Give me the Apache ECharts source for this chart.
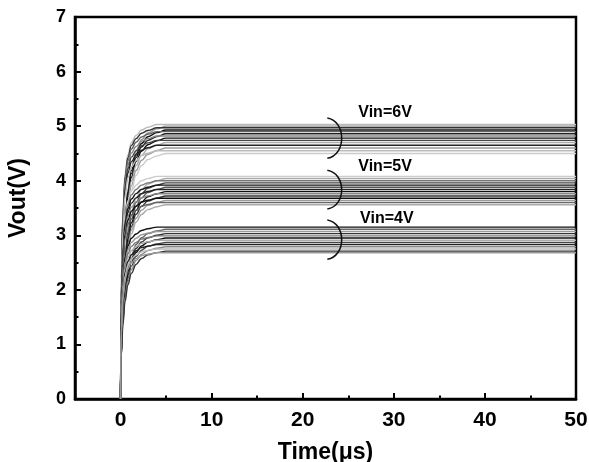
<!DOCTYPE html>
<html>
<head>
<meta charset="utf-8">
<script src="https://cdn.jsdelivr.net/npm/echarts@6/dist/echarts.min.js"></script>
<style>
  html, body { margin: 0; padding: 0; background: #fff; }
  #chart { width: 589px; height: 462px; }
</style>
</head>
<body>
<div id="chart"></div>
<script>
// time samples (us) and rise profiles (fraction of final level)
const times = [0, 0.1, 0.25, 0.5, 0.8, 1.2, 1.7, 2.3, 3, 4, 5, 50]
const fastRise = [0, 0.45, 0.68, 0.82, 0.89, 0.935, 0.96, 0.98, 0.99, 1, 1, 1]
const slowRise = [0, 0.3, 0.5, 0.66, 0.77, 0.85, 0.91, 0.95, 0.975, 0.99, 1, 1]

// final output levels (V) of each curve, per input voltage
const levels6V = [5.03, 5.0, 4.97, 4.93, 4.9, 4.86, 4.82, 4.78, 4.74, 4.7, 4.65, 4.6, 4.55, 4.5]
const levels5V = [4.08, 4.04, 4.0, 3.96, 3.92, 3.88, 3.84, 3.8, 3.76, 3.72, 3.68, 3.64, 3.6, 3.56]
const levels4V = [3.15, 3.11, 3.07, 3.03, 2.99, 2.95, 2.91, 2.87, 2.83, 2.79, 2.75, 2.71, 2.68]

// grey shade of each curve
const shades6V = ['#bbb', '#999', '#333', '#111', '#666', '#222', '#888', '#111', '#444', '#aaa', '#222', '#999', '#bbb', '#ccc']
const shades5V = ['#ccc', '#aaa', '#777', '#444', '#111', '#555', '#222', '#111', '#888', '#333', '#111', '#999', '#666', '#aaa']
const shades4V = ['#111', '#666', '#999', '#333', '#777', '#111', '#aaa', '#444', '#222', '#888', '#bbb', '#333', '#999']

const groupLabels = ['Vin=6V', 'Vin=5V', 'Vin=4V']

// tick positions
const xMajor = [0, 10, 20, 30, 40, 50]
const xMinor = [5, 15, 25, 35, 45]

const font = 'Liberation Sans'

function buildSeries(levels, shades, name) {
  return levels.map((lv, i) => {
    const prof = i % 2 === 0 ? fastRise : slowRise
    return {
      name: name + '_' + i,
      type: 'line',
      xAxisIndex: 0,
      showSymbol: false,
      smooth: 0.4,
      smoothMonotone: 'x',
      lineStyle: { color: shades[i], width: 1.4 },
      data: times.map((t, k) => [t, +(lv * prof[k]).toFixed(3)]),
      silent: true,
    }
  })
}

const series = [].concat(
  buildSeries(levels6V, shades6V, '6V'),
  buildSeries(levels5V, shades5V, '5V'),
  buildSeries(levels4V, shades4V, '4V')
)

const option = {
  animation: false,
  grid: {
    left: 75,
    right: 13,
    top: 17,
    bottom: 63,
    outerBoundsMode: 'none',
    containLabel: false,
    show: true,
    borderColor: '#000',
    borderWidth: 2.5,
  },
  xAxis: [{
    type: 'value',
    min: -5,
    max: 50,
    name: 'Time(μs)',
    nameLocation: 'middle',
    nameGap: 42,
    nameTextStyle: { fontFamily: font, fontWeight: 'bold', fontSize: 23, color: '#000' },
    axisLine: { onZero: false, lineStyle: { color: '#000', width: 2.5 } },
    axisTick: { inside: true, length: 6, lineStyle: { color: '#000', width: 2 }, customValues: xMajor },
    axisLabel: { fontFamily: font, fontWeight: 'bold', fontSize: 21, color: '#000', margin: 11, customValues: xMajor },
    splitLine: { show: false },
  }, {
    type: 'value',
    min: -5,
    max: 50,
    position: 'bottom',
    axisLine: { show: false },
    axisTick: { inside: true, length: 3.5, lineStyle: { color: '#000', width: 2 }, customValues: xMinor },
    axisLabel: { show: false },
    splitLine: { show: false },
  }],
  yAxis: {
    type: 'value',
    min: 0,
    max: 7,
    interval: 1,
    name: 'Vout(V)',
    nameLocation: 'middle',
    nameGap: 45,
    nameTextStyle: { fontFamily: font, fontWeight: 'bold', fontSize: 23, color: '#000', padding: [0, 0, 0, 20] },
    axisLine: { onZero: false, lineStyle: { color: '#000', width: 2.5 } },
    axisTick: { inside: true, length: 6, lineStyle: { color: '#000', width: 2 } },
    minorTick: { show: true, splitNumber: 2, length: 3.5, lineStyle: { color: '#000', width: 2 } },
    axisLabel: { fontFamily: font, fontWeight: 'bold', fontSize: 18, color: '#000', margin: 9 },
    splitLine: { show: false },
  },
  series: series,
}

const chart = echarts.init(document.getElementById('chart'))
chart.setOption(option)

// annotation braces and labels, placed in data coordinates
const braceSpans = [[5.15, 4.41], [4.19, 3.48], [3.28, 2.56]]
const labelPos = [[26.1, 5.24], [26.1, 4.25], [26.3, 3.31]]
const graphic = []
braceSpans.forEach((span, i) => {
  const p1 = chart.convertToPixel({ gridIndex: 0 }, [22.7, span[0]])
  const p2 = chart.convertToPixel({ gridIndex: 0 }, [22.7, span[1]])
  const bx = chart.convertToPixel({ gridIndex: 0 }, [24.8, 0])[0]
  const h = p2[1] - p1[1]
  graphic.push({
    type: 'bezierCurve',
    shape: { x1: p1[0], y1: p1[1], cpx1: bx, cpy1: p1[1] + h * 0.08, cpx2: bx, cpy2: p2[1] - h * 0.08, x2: p2[0], y2: p2[1] },
    style: { stroke: '#111', lineWidth: 1.5, fill: null },
    z: 100,
  })
  const lp = chart.convertToPixel({ gridIndex: 0 }, labelPos[i])
  graphic.push({
    type: 'text',
    x: lp[0],
    y: lp[1],
    style: { text: groupLabels[i], font: 'bold 16px "Liberation Sans"', fill: '#000', textVerticalAlign: 'middle' },
    z: 100,
  })
})
chart.setOption({ graphic: graphic })
</script>
</body>
</html>
